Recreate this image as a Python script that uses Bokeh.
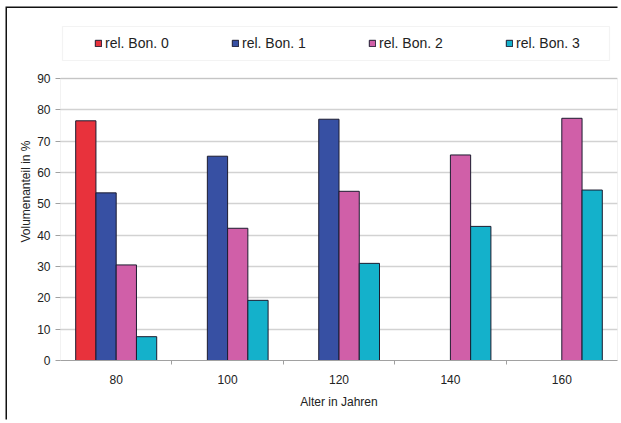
from bokeh.plotting import figure
from bokeh.models import ColumnDataSource, Range1d, FixedTicker, Legend, LegendItem, BoxAnnotation
from bokeh.transform import dodge
from bokeh.embed import file_html
from bokeh.resources import INLINE

ages = [80, 100, 120, 140, 160]
bon0 = [76.5, None, None, None, None]
bon1 = [53.5, 65.2, 77.0, None, None]
bon2 = [30.5, 42.2, 54.0, 65.6, 77.3]
bon3 = [7.6, 19.2, 31.0, 42.8, 54.4]
series_names = ["rel. Bon. 0", "rel. Bon. 1", "rel. Bon. 2", "rel. Bon. 3"]
colors = ["#E8323C", "#3750A3", "#D05FA8", "#14B1CB"]
y_ticks = [0, 10, 20, 30, 40, 50, 60, 70, 80, 90]
x_boundaries = [90, 110, 130, 150]
x_start, x_end = 70, 170
y_max = 90

FONT = "Liberation Sans"

W, H = 612, 413
top_border = 14
plot_top = 70      # canvas y of value 90
plot_bottom = 352  # canvas y of value 0
y_end = y_max * (plot_bottom - top_border) / (plot_bottom - plot_top)

p = figure(width=W, height=H, output_backend="svg", toolbar_location=None,
           x_range=Range1d(x_start, x_end), y_range=Range1d(0, y_end),
           min_border_left=53, min_border_right=2, min_border_top=top_border,
           min_border_bottom=H - plot_bottom,
           background_fill_color="white", border_fill_color="white")
p.styles = {"margin-left": "7px", "margin-top": "8px",
            "box-shadow": "-1.5px -1.5px 0px 0px #111111"}

# plot-area outline (value range box)
p.add_layout(BoxAnnotation(left=x_start, right=x_end, bottom=0, top=y_max,
                           fill_alpha=0, line_color="#a8a8a8", line_width=1))
# legend box (canvas units)
p.add_layout(BoxAnnotation(left=55, right=602, top=18, bottom=52,
                           left_units="canvas", right_units="canvas",
                           top_units="canvas", bottom_units="canvas",
                           fill_color="white", fill_alpha=1, line_color="#d6d6d6", line_width=1.2))

cat_w = 20.0
bar_w = cat_w / 5.5
all_series = [bon0, bon1, bon2, bon3]
items = []
for i, (vals, name, col) in enumerate(zip(all_series, series_names, colors)):
    xs = [a for a, v in zip(ages, vals) if v is not None]
    ys = [v for v in vals if v is not None]
    src = ColumnDataSource(dict(age=xs, val=ys))
    r = p.vbar(x=dodge("age", (i - 1.5) * bar_w, range=p.x_range), top="val", width=bar_w,
               source=src, fill_color=col, line_color="#1c1c30", line_width=1)
    items.append(LegendItem(label=name, renderers=[r]))

legend = Legend(items=items, orientation="horizontal", location=(34, 309),
                border_line_color=None, background_fill_alpha=0, padding=0, margin=0,
                spacing=61, glyph_width=8, glyph_height=8, label_standoff=3, label_width=65,
                label_height=16, label_text_font=FONT, label_text_font_size="14px",
                label_text_color="#222222")
p.add_layout(legend)

# axes
p.xaxis.ticker = FixedTicker(ticks=ages, minor_ticks=x_boundaries)
p.xaxis.major_tick_line_color = None
p.xaxis.major_tick_out = 0
p.xaxis.major_tick_in = 0
p.xaxis.minor_tick_out = 4
p.xaxis.minor_tick_in = 0
p.xaxis.minor_tick_line_color = "#a0a0a0"
p.xaxis.axis_line_color = "#a0a0a0"
p.xaxis.major_label_standoff = 10
p.xaxis.axis_label = "Alter in Jahren"
p.xaxis.axis_label_standoff = 8

p.yaxis.ticker = FixedTicker(ticks=y_ticks)
p.yaxis.major_tick_out = 5
p.yaxis.major_tick_in = 0
p.yaxis.minor_tick_line_color = None
p.yaxis.major_tick_line_color = "#a0a0a0"
p.yaxis.axis_line_color = None
p.yaxis.major_label_standoff = 5
p.yaxis.axis_label = "Volumenanteil in %"
p.yaxis.axis_label_standoff = 1

for ax in [p.xaxis[0], p.yaxis[0]]:
    ax.major_label_text_font = FONT
    ax.major_label_text_font_size = "12px"
    ax.major_label_text_color = "#222222"
    ax.axis_label_text_font = FONT
    ax.axis_label_text_font_size = "12px"
    ax.axis_label_text_font_style = "normal"
    ax.axis_label_text_color = "#222222"

p.xgrid.grid_line_color = None
p.ygrid.ticker = FixedTicker(ticks=y_ticks)
p.ygrid.grid_line_color = "#d2d2d2"
p.ygrid.grid_line_width = 1.5
p.outline_line_color = None

open("out.html", "w").write(file_html(p, INLINE))
